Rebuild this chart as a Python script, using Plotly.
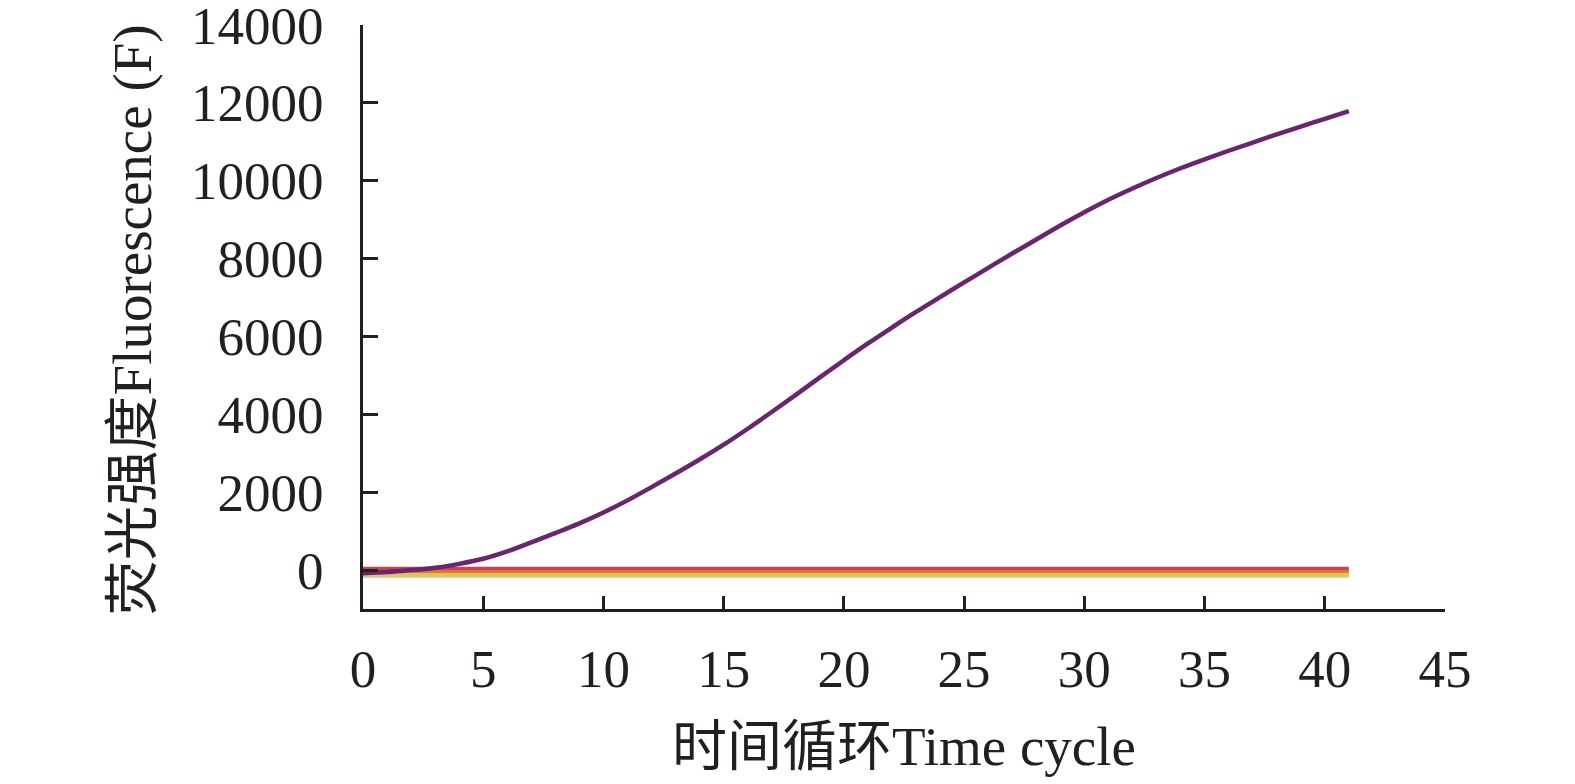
import plotly.graph_objects as go

cycles = list(range(0, 42))
purple_vals = [-80, -50, 0, 60, 160, 290, 480, 710, 950, 1200,
               1480, 1790, 2130, 2480, 2840, 3220, 3630, 4060, 4500, 4950,
               5390, 5820, 6230, 6630, 7010, 7390, 7760, 8130, 8490, 8850,
               9190, 9510, 9800, 10070, 10320, 10550, 10770, 10980, 11190, 11390,
               11590, 11790]
flat_levels = {'tan': -150, 'yellow': -90, 'orange': -30, 'red': 40}
flat_colors = {'tan': '#d8c48c', 'yellow': '#d8cc3c', 'orange': '#e07a3a', 'red': '#d2404e'}

x_ticks = [0, 5, 10, 15, 20, 25, 30, 35, 40, 45]
y_ticks = [0, 2000, 4000, 6000, 8000, 10000, 12000, 14000]
y_labels = ['0', '2000', '4000', '6000', '8000', '10000', '12000', '14000']

FONT = 'Liberation Serif, Times New Roman, Noto Sans CJK SC, serif'
AXIS = '#231f20'

fig = go.Figure()
for name in ['tan', 'yellow', 'orange', 'red']:
    fig.add_trace(go.Scatter(x=cycles, y=[flat_levels[name]] * len(cycles), mode='lines',
                             line=dict(color=flat_colors[name], width=3.5), showlegend=False))
fig.add_trace(go.Scatter(x=cycles, y=purple_vals, mode='lines', line_shape='spline',
                         line=dict(color='#6b2470', width=4.5), showlegend=False))

# page body adds an 8px offset, so the figure is a bit smaller than the window
fig.update_layout(
    width=1567, height=776,
    margin=dict(l=355, r=130, t=17, b=175),
    plot_bgcolor='white', paper_bgcolor='white',
    font=dict(family=FONT, size=53, color=AXIS),
)
fig.update_xaxes(range=[0, 45], tickvals=x_ticks, showgrid=False, zeroline=False,
                 showline=True, linewidth=3, linecolor=AXIS, automargin=False,
                 ticks='inside', ticklen=13, tickwidth=3, tickcolor=AXIS,
                 ticklabelstandoff=11, ticklabeloverflow='allow')
fig.update_yaxes(range=[-1000, 14000], tickvals=y_ticks, ticktext=y_labels,
                 showgrid=False, zeroline=False, automargin=False,
                 showline=True, linewidth=3, linecolor=AXIS,
                 ticks='inside', ticklen=15, tickwidth=3, tickcolor=AXIS,
                 ticklabelstandoff=26, ticklabeloverflow='allow')

# axis titles
fig.add_annotation(text='时间循环Time cycle', xref='paper', yref='paper',
                   x=0.5, y=-0.235, showarrow=False,
                   font=dict(family=FONT, size=55, color=AXIS),
                   xanchor='center', yanchor='middle')
fig.add_annotation(text='荧光强度Fluorescence (F)', xref='paper', yref='paper',
                   x=-0.213, y=0.495, showarrow=False, textangle=-90,
                   font=dict(family=FONT, size=55, color=AXIS),
                   xanchor='center', yanchor='middle')

fig.write_html("out.html")
